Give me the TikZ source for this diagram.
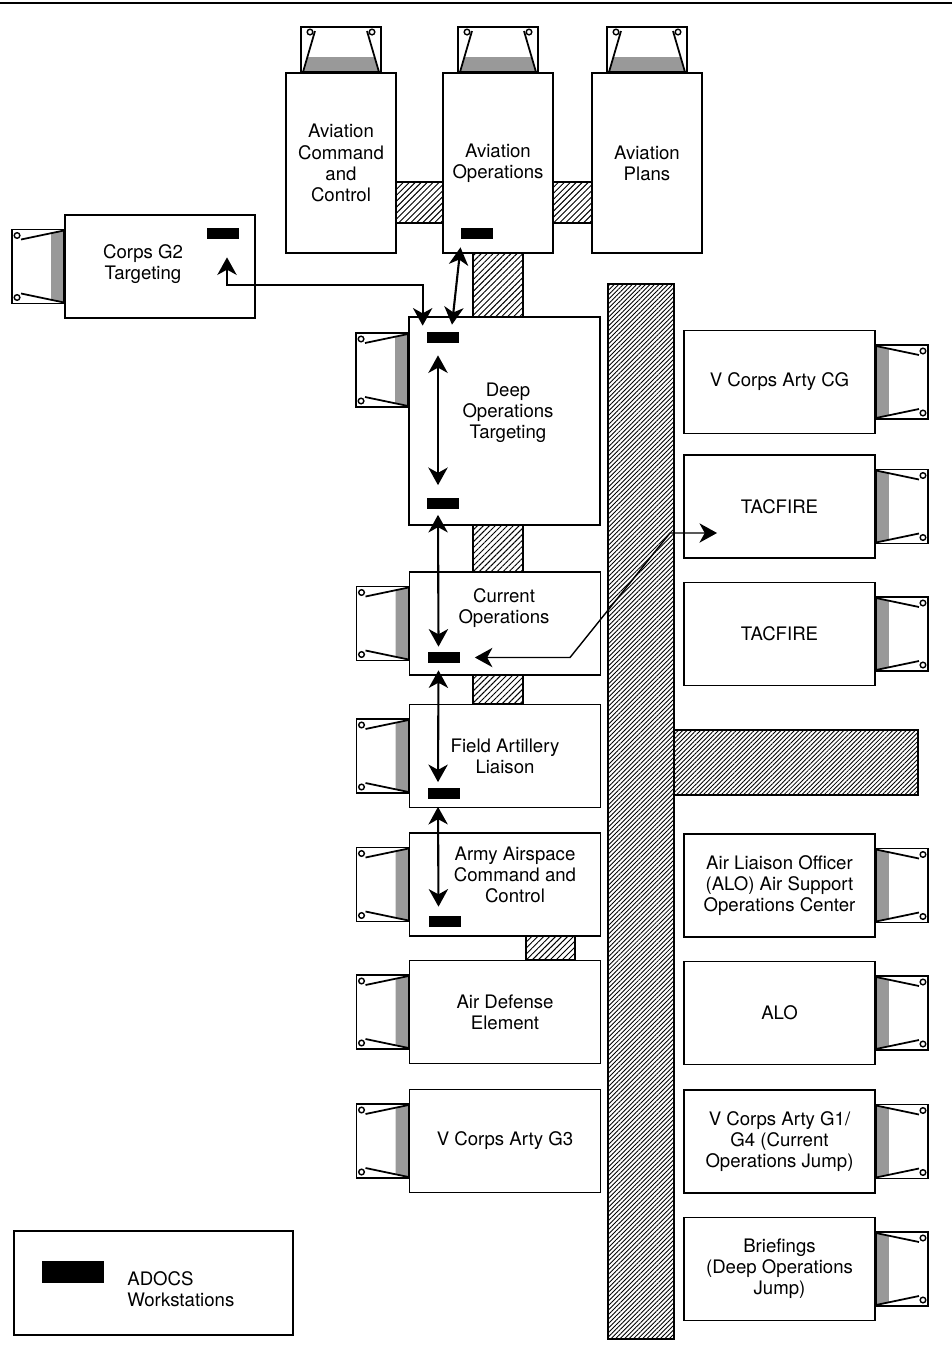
\documentclass[tikz,border=0pt]{standalone}
\usepackage{fontspec}
\setmainfont{TeX Gyre Heros}
\usetikzlibrary{arrows.meta, calc, patterns.meta}

\begin{document}
\begin{tikzpicture}[
  x=0.02cm, y=-0.02cm,
  box/.style 2 args={draw, line width=1.1pt, fill=white, inner sep=0pt,
              minimum width=#1*0.02cm, minimum height=#2*0.02cm,
              align=center, font=\fontsize{10.6}{12}\selectfont},
  cell/.style={box={191}{103}},
  tower/.style={box={110}{180}},
  txt/.style={inner sep=0pt, align=center, font=\fontsize{10.6}{12}\selectfont},
  ws/.style={fill=black, inner sep=0pt, minimum width=0.64cm, minimum height=0.22cm},
  hatch/.style={draw, line width=0.9pt,
              pattern={Lines[angle=45, distance=2.4pt, line width=0.55pt]}},
  dense/.style={draw, line width=0.9pt,
              pattern={Lines[angle=45, distance=1.8pt, line width=0.5pt]}},
  stip/.style={fill=black!40},
  dbl/.style={{Stealth[length=10pt, width=11pt, inset=3pt]}-{Stealth[length=10pt, width=11pt, inset=3pt]},
              line width=1.2pt},
  trailerL/.pic={
    \fill[stip] (-13,-33) -- (0,-36) -- (0,36) -- (-13,33) -- cycle;
    \draw[line width=1pt] (-52,-37) rectangle (0,37);
    \draw[line width=1pt] (-43,-27) -- (0,-36) (-43,27) -- (0,36);
    \draw[line width=0.8pt, fill=white] (-47,-31) circle (1.6pt) (-47,31) circle (1.6pt);
  },
  trailerT/.pic={
    \fill[stip] (-33,-15) -- (33,-15) -- (38,0) -- (-38,0) -- cycle;
    \draw[line width=1pt] (-40,-45) rectangle (40,0);
    \draw[line width=1pt] (-26,-41) -- (-38,0) (26,-41) -- (38,0);
    \draw[line width=0.8pt, fill=white] (-31,-40) circle (1.6pt) (31,-40) circle (1.6pt);
  }
]
\useasboundingbox (0,0) rectangle (952,1355);
\draw[line width=1pt] (0,3) -- (952,3);

\draw[hatch] (396,182) rectangle (443,223);
\draw[hatch] (553,182) rectangle (592,223);
\draw[hatch] (473,253) rectangle (523,317);
\draw[hatch] (473,525) rectangle (523,572);
\draw[hatch] (473,675) rectangle (523,704);
\draw[hatch] (526,936) rectangle (575,960);
\draw[dense] (608,284) rectangle (674,1339);
\draw[dense] (674,730) rectangle (918,795);

\node[tower] (acc) at (341,163) {Aviation\\Command\\and\\Control};
\node[tower] (ao)  at (498,163) {Aviation\\Operations};
\node[tower] (ap)  at (647,163) {Aviation\\Plans};
\node[box={190}{103}] (g2)  at (160,266.5) {};
\node[box={191}{208}] (dot) at (504.5,421) {};
\node[cell] (co)   at (505,623.5) {};
\node[cell] (fal)  at (505,756)   {Field Artillery\\Liaison};
\node[cell] (aacc) at (505,884.5) {};
\node[cell] (ade)  at (505,1012)  {Air Defense\\Element};
\node[cell] (g3)   at (505,1141)  {V Corps Arty G3};
\node[cell] (cg)   at (779.5,382)    {V Corps Arty CG};
\node[cell] (tf1)  at (779.5,506.5)  {TACFIRE};
\node[cell] (tf2)  at (779.5,634)    {TACFIRE};
\node[cell] (asoc) at (779.5,885.5)  {Air Liaison Officer\\(ALO) Air Support\\Operations Center};
\node[cell] (alo)  at (779.5,1013)   {ALO};
\node[cell] (g14)  at (779.5,1141.5) {V Corps Arty G1/\\G4 (Current\\Operations Jump)};
\node[cell] (brf)  at (779.5,1269)   {Briefings\\(Deep Operations\\Jump)};
\node[box={279}{104}] (leg) at (153.5,1283) {};

\node[txt] (g2txt)   at (143,264.5) {Corps G2\\Targeting};
\node[txt] (dottxt)  at (508,413)   {Deep\\Operations\\Targeting};
\node[txt] (cotxt)   at (504,608)   {Current\\Operations};
\node[txt] (aacctxt) at (515,875)   {Army Airspace\\Command and\\Control};

\pic at (acc.north) {trailerT};
\pic at (ao.north) {trailerT};
\pic at (ap.north) {trailerT};
\pic at (g2.west) {trailerL};
\pic at ($(dot.west)+(0,-51)$) {trailerL};
\pic at (co.west) {trailerL};
\pic at (fal.west) {trailerL};
\pic at (aacc.west) {trailerL};
\pic at (ade.west) {trailerL};
\pic at (g3.west) {trailerL};
\pic[xscale=-1] at (cg.east) {trailerL};
\pic[xscale=-1] at (tf1.east) {trailerL};
\pic[xscale=-1] at (tf2.east) {trailerL};
\pic[xscale=-1] at (asoc.east) {trailerL};
\pic[xscale=-1] at (alo.east) {trailerL};
\pic[xscale=-1] at (g14.east) {trailerL};
\pic[xscale=-1] at (brf.east) {trailerL};

\node[ws] (wsg2)   at (223,233.5) {};
\node[ws] (wsao)   at (476.5,233.5) {};
\node[ws] (wsdt)   at (443,337.5) {};
\node[ws] (wsdb)   at (443,503) {};
\node[ws] (wsco)   at (443.5,657.5) {};
\node[ws] (wsfal)  at (444,793) {};
\node[ws] (wsaacc) at (444.5,921.5) {};
\node[ws, minimum width=1.24cm, minimum height=0.44cm] (wsleg) at (73,1272) {};
\node[txt, anchor=west, align=left] (legtxt) at (127,1289.5) {ADOCS\\Workstations};

\coordinate (kinka) at (670,533);
\coordinate (kinkb) at (570,657.5);

\draw[dbl] ($(wsg2.south)+(4,18)$) |- ($(wsdt.north west)+(-4,-47)$) -- ($(wsdt.north west)+(-4,-6)$);
\draw[dbl] ($(wsao.south)+(-16,8)$) -- ($(wsdt.north)+(9,-7)$);
\draw[dbl] ($(wsdt.south)+(-5,12)$) -- ($(wsdb.north)+(-5,-12)$);
\draw[dbl] ($(wsdb.south)+(-5,6)$) -- ($(wsco.north)+(-5,-5)$);
\draw[dbl] ($(wsco.south)+(-5,7)$) -- ($(wsfal.north)+(-6,-5)$);
\draw[dbl] ($(wsfal.south)+(-6,8)$) -- ($(wsaacc.north)+(-6,-9)$);
\draw[dbl, line width=0.8pt] ($(wsco.east)+(15,0)$) -- (kinkb) -- (kinka) -- ($(tf1.west)+(34,26.5)$);
\end{tikzpicture}
\end{document}
